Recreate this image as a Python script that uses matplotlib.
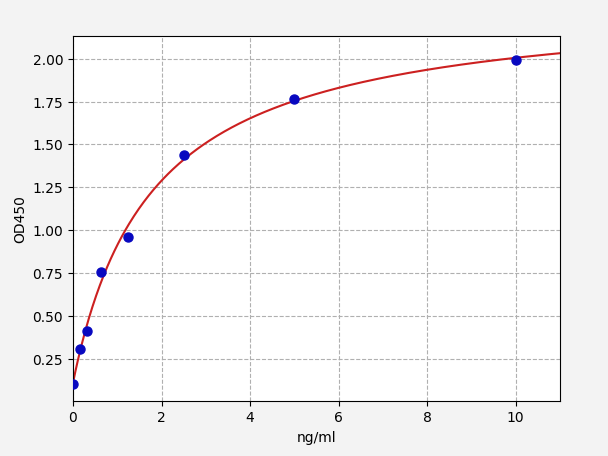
import matplotlib
matplotlib.use("Agg")
import matplotlib.pyplot as plt
import numpy as np

# standard points
conc = np.array([0, 0.156, 0.3125, 0.625, 1.25, 2.5, 5, 10])
od = np.array([0.104, 0.304, 0.409, 0.758, 0.959, 1.438, 1.766, 1.995])


def four_pl(x, p):
    a, b, c, d = p
    return d + (a - d) / (1 + (np.maximum(x, 0) / c) ** b)


# simple Levenberg-Marquardt fit of the 4PL curve
p = np.array([0.1, 1.0, 2.0, 2.5])
lam = 1e-2
for i in range(500):
    r = od - four_pl(conc, p)
    J = np.zeros((len(conc), 4))
    for k in range(4):
        dp = np.zeros(4)
        dp[k] = 1e-6 * max(abs(p[k]), 1e-3)
        J[:, k] = (four_pl(conc, p + dp) - four_pl(conc, p)) / dp[k]
    A = J.T @ J
    g = J.T @ r
    step = np.linalg.solve(A + lam * np.diag(np.diag(A)), g)
    p_new = p + step
    if p_new[2] > 0 and np.sum((od - four_pl(conc, p_new)) ** 2) < np.sum(r ** 2):
        p = p_new
        lam *= 0.5
    else:
        lam *= 4

x_fit = np.linspace(0, 11, 400)
y_fit = four_pl(x_fit, p)

fig = plt.figure(figsize=(6.08, 4.565), dpi=100, facecolor='#f3f3f3')
ax = fig.add_axes([0.120, 0.121, 0.801, 0.800])
ax.set_facecolor('white')

ax.plot(x_fit, y_fit, color='#cc2020', linewidth=1.5, zorder=2)
ax.plot(conc, od, 'o', color='#0808c0', markersize=6.5, zorder=3)

ax.set_xlim(0, 11)
ax.set_ylim(0.005, 2.135)
ax.set_xticks([0, 2, 4, 6, 8, 10])
ax.set_yticks([0.25, 0.5, 0.75, 1.0, 1.25, 1.5, 1.75, 2.0])
ax.set_yticklabels(['0.25', '0.50', '0.75', '1.00', '1.25', '1.50', '1.75', '2.00'])
ax.grid(True, linestyle='--', color='#b0b0b0', linewidth=0.8)
ax.set_axisbelow(True)
ax.set_xlabel('ng/ml')
ax.set_ylabel('OD450')

plt.savefig('out.png', dpi=100, facecolor=fig.get_facecolor())
